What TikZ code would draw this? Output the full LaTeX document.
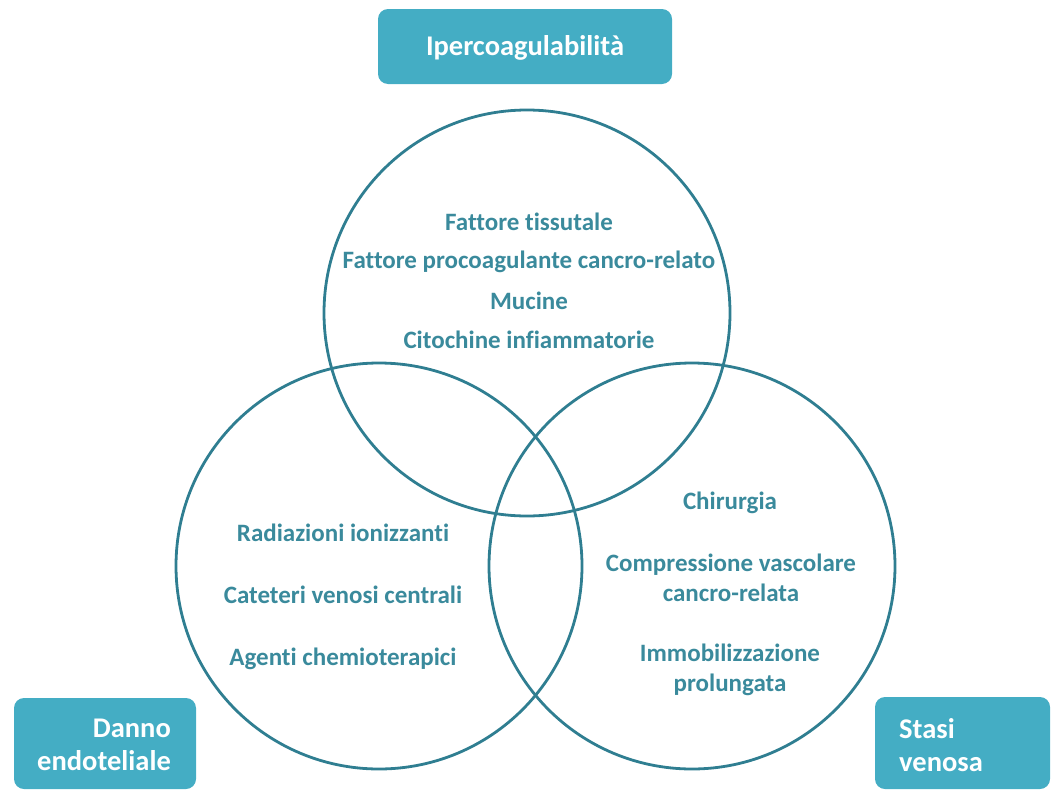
\documentclass[tikz,border=0pt]{standalone}
\usepackage{fontspec}
\setmainfont[Ligatures={NoCommon}]{Carlito}
\definecolor{boxfill}{HTML}{44ADC4}
\definecolor{ring}{HTML}{2F7E91}
\definecolor{txt}{HTML}{3A8A9C}
\begin{document}
\begin{tikzpicture}[x=1pt,y=-1pt,
  ringstyle/.style={draw=ring,line width=2.8pt},
  boxtext/.style={text=white,font=\fontsize{28.5}{33}\selectfont\bfseries,inner sep=0pt},
  item/.style={text=txt, font=\fontsize{25}{30}\selectfont\bfseries, inner sep=0pt, anchor=center}]
\useasboundingbox (0,0) rectangle (1051,811);
% circles
\draw[ringstyle] (527,313) circle (203);
\draw[ringstyle] (379,566) circle (203);
\draw[ringstyle] (692,566) circle (203);
% boxes
\fill[boxfill,rounded corners=10pt] (378,9) rectangle (672,84);
\node[boxtext] (ipc) at (525,48) {Ipercoagulabilità};
\fill[boxfill,rounded corners=10pt] (14,698) rectangle (196,789);
\node[boxtext,align=right,anchor=east] (den) at (171,745) {Danno\\endoteliale};
\fill[boxfill,rounded corners=10pt] (875,697) rectangle (1050,789);
\node[boxtext,align=left,anchor=west] (sv) at (899,745) {Stasi\\venosa};
% top texts
\node[item] (t1) at (529,221.5) {Fattore tissutale};
\node[item] (t2) at (529,261.5) {Fattore procoagulante cancro-relato};
\node[item] (t3) at (529,300.5) {Mucine};
\node[item] (t4) at (529,339.5) {Citochine infiammatorie};
% left texts
\node[item] (l1) at (343,532.5) {Radiazioni ionizzanti};
\node[item] (l2) at (343,594.5) {Cateteri venosi centrali};
\node[item] (l3) at (343,658.5) {Agenti chemioterapici};
% right texts
\node[item] (r1) at (730,502.5) {Chirurgia};
\node[item,align=center] (r2) at (731,577.5) {Compressione vascolare\\cancro-relata};
\node[item,align=center] (r3) at (730,669.5) {Immobilizzazione\\prolungata};
\end{tikzpicture}
\end{document}
